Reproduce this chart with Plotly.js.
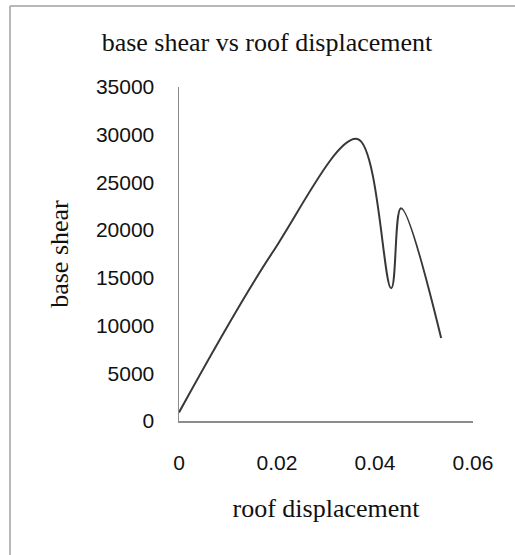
<!DOCTYPE html>
<html>
<head>
<meta charset="utf-8">
<script src="https://cdn.plot.ly/plotly-3.0.1.min.js"></script>
<style>html,body{margin:0;padding:0;background:#fff;}#chart{width:515px;height:555px;}</style>
</head>
<body>
<div id="chart"></div>
<script>
var roofDisplacement = [0, 0.019, 0.0364, 0.0433, 0.0453, 0.0535];
var baseShear = [900, 17600, 29550, 13900, 22300, 8700];
var xTickValues = [0, 0.02, 0.04, 0.06];
var xTickLabels = ['0', '0.02', '0.04', '0.06'];
var yTickValues = [0, 5000, 10000, 15000, 20000, 25000, 30000, 35000];
var yTickLabels = ['0', '5000', '10000', '15000', '20000', '25000', '30000', '35000'];

var W = 515, H = 555;
var L = 179, R = 42, T = 87, B = 134;
var pw = W - L - R, ph = H - T - B;
function px2paperX(p) { return (p - L) / pw; }
function px2paperY(p) { return (H - B - p) / ph; }

var trace = {
  x: roofDisplacement,
  y: baseShear,
  type: 'scatter',
  mode: 'lines',
  line: {shape: 'spline', smoothing: 1, color: '#383838', width: 2},
  hoverinfo: 'x+y'
};

var tickFont = {family: 'Liberation Sans, Arial, sans-serif', size: 21, color: '#111111'};
var titleFont = {family: 'Liberation Serif, Times New Roman, serif', size: 26, color: '#111111'};

var layout = {
  width: W, height: H,
  margin: {l: L, r: R, t: T, b: B, pad: 0},
  paper_bgcolor: '#ffffff',
  plot_bgcolor: '#ffffff',
  showlegend: false,
  title: {text: 'base shear vs roof displacement', font: titleFont, x: 267 / W, xanchor: 'center', xref: 'container', y: 1 - 42 / H, yanchor: 'middle', yref: 'container'},
  xaxis: {
    range: [0, 0.06], tickvals: xTickValues, ticktext: xTickLabels,
    showgrid: false, zeroline: false, showline: true, linecolor: '#8c8c8c', linewidth: 1.5,
    ticks: '', tickfont: tickFont, ticklabelstandoff: 22,
    title: {text: 'roof displacement', font: titleFont, standoff: 26}
  },
  yaxis: {
    range: [0, 35000], tickvals: yTickValues, ticktext: yTickLabels,
    showgrid: false, zeroline: false, showline: true, linecolor: '#8c8c8c', linewidth: 1.5,
    ticks: '', tickfont: tickFont, ticklabelstandoff: 19,
    title: {text: 'base shear', font: titleFont, standoff: 20}
  },
  shapes: [
    {type: 'line', xref: 'paper', yref: 'paper', x0: px2paperX(10), x1: px2paperX(10), y0: px2paperY(6), y1: px2paperY(560), line: {color: '#a0a0a0', width: 1.5}},
    {type: 'line', xref: 'paper', yref: 'paper', x0: px2paperX(10), x1: px2paperX(520), y0: px2paperY(6), y1: px2paperY(6), line: {color: '#a0a0a0', width: 1.5}}
  ]
};

Plotly.newPlot('chart', [trace], layout, {displayModeBar: false, staticPlot: true});
</script>
</body>
</html>
